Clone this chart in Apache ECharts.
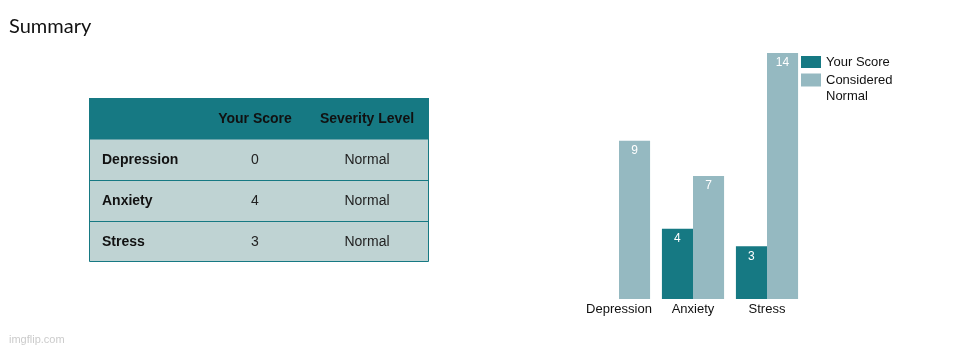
<!DOCTYPE html>
<html>
<head>
<meta charset="utf-8">
<script src="https://cdn.jsdelivr.net/npm/echarts@6/dist/echarts.min.js"></script>
<style>
html,body{margin:0;padding:0;background:#fff;}
#c{width:980px;height:349px;}
</style>
</head>
<body>
<div id="c"></div>
<script>
// ---- data ----
const categories = ['Depression', 'Anxiety', 'Stress'];
const yourScore = [0, 4, 3];
const consideredNormal = [9, 7, 14];
const severity = ['Normal', 'Normal', 'Normal'];
const tableHeaders = ['', 'Your Score', 'Severity Level'];
const seriesNames = ['Your Score', 'Considered Normal'];

const TEAL = '#167983';
const LIGHT = '#95b9c1';
const TABLE_BODY = '#bfd3d3';
const FONT = '"Liberation Sans", Arial, sans-serif';

// ---- table built from arrays ----
const tX = 89, tW = 340, rowH = 41, tY = 98;
const colCenters = [null, 255, 367];
const tableEls = [];
tableEls.push({type:'rect', shape:{x:tX, y:tY, width:tW, height:rowH}, style:{fill:TEAL}});
tableEls.push({type:'rect', shape:{x:tX+0.5, y:tY+rowH, width:tW-1, height:rowH*categories.length-0.5}, style:{fill:TABLE_BODY, stroke:TEAL, lineWidth:1}});
for (let i = 1; i < tableHeaders.length; i++) {
  tableEls.push({type:'text', style:{text:tableHeaders[i], x:colCenters[i], y:tY+rowH/2+1, align:'center', verticalAlign:'middle', font:'bold 14px ' + FONT, fill:'#111'}});
}
categories.forEach((c, r) => {
  const yMid = tY + rowH*(r+1) + rowH/2 + 1;
  if (r > 0) {
    tableEls.push({type:'line', shape:{x1:tX, y1:tY+rowH*(r+1)+0.5, x2:tX+tW, y2:tY+rowH*(r+1)+0.5}, style:{stroke:TEAL, lineWidth:1}});
  }
  tableEls.push({type:'text', style:{text:c, x:102, y:yMid, align:'left', verticalAlign:'middle', font:'bold 14px ' + FONT, fill:'#111'}});
  tableEls.push({type:'text', style:{text:String(yourScore[r]), x:colCenters[1], y:yMid, align:'center', verticalAlign:'middle', font:'14px ' + FONT, fill:'#222'}});
  tableEls.push({type:'text', style:{text:severity[r], x:colCenters[2], y:yMid, align:'center', verticalAlign:'middle', font:'14px ' + FONT, fill:'#222'}});
});
tableEls.push({type:'text', style:{text:'imgflip.com', x:9, y:340, verticalAlign:'middle', font:'11px ' + FONT, fill:'#cbcbcb'}});

const chart = echarts.init(document.getElementById('c'), null, {renderer:'canvas'});
const labelFmt = p => (p.value === 0 ? '' : String(p.value));
chart.setOption({
  animation: false,
  backgroundColor: '#fff',
  title: {
    text: 'Summary', left: 9, top: 17, padding: 0,
    textStyle: {fontFamily: 'Lato, "Open Sans", sans-serif', fontSize: 20, fontWeight: 'normal', color: '#111'}
  },
  legend: [
    {
      data: [seriesNames[0]], orient: 'vertical', left: 801, top: 54, padding: 0,
      itemWidth: 20, itemHeight: 12, itemGap: 0, icon: 'rect',
      selectedMode: false,
      textStyle: {fontFamily: FONT, fontSize: 13, color: '#111', lineHeight: 16}
    },
    {
      data: [seriesNames[1]], orient: 'vertical', left: 801, top: 72, padding: 0,
      itemWidth: 20, itemHeight: 29, itemGap: 0,
      icon: 'path://M0,0L20,0L20,13L0,13Z M0,29L0.001,29Z',
      selectedMode: false,
      formatter: n => n.replace(' ', '\n'),
      textStyle: {fontFamily: FONT, fontSize: 13, color: '#111', lineHeight: 16}
    }
  ],
  grid: {left: 582, right: 176, top: 53, bottom: 50},
  xAxis: {
    type: 'category', data: categories,
    axisLine: {show: false}, axisTick: {show: false},
    axisLabel: {interval: 0, margin: 4, fontFamily: FONT, fontSize: 13, color: '#111'}
  },
  yAxis: {type: 'value', min: 0, max: 14, show: false, splitLine: {show: false}},
  series: [
    {
      name: seriesNames[0], type: 'bar', data: yourScore, barGap: '0%', barCategoryGap: '16%',
      itemStyle: {color: TEAL},
      label: {show: true, position: 'insideTop', distance: 4, color: '#fff', fontSize: 12, fontFamily: FONT, formatter: labelFmt}
    },
    {
      name: seriesNames[1], type: 'bar', data: consideredNormal, barGap: '0%', barCategoryGap: '16%',
      itemStyle: {color: LIGHT},
      label: {show: true, position: 'insideTop', distance: 4, color: '#fff', fontSize: 12, fontFamily: FONT, formatter: labelFmt}
    }
  ],
  graphic: tableEls
});
</script>
</body>
</html>
